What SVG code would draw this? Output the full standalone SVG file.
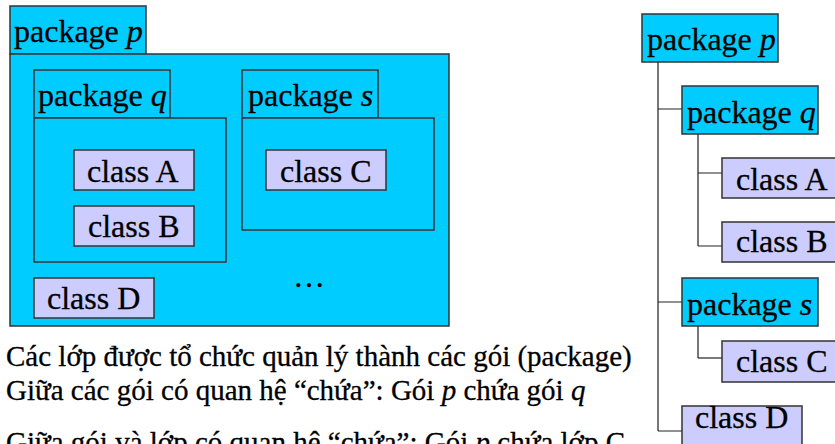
<svg xmlns="http://www.w3.org/2000/svg" width="835" height="444" viewBox="0 0 835 444">
  <style>
    .pkg { fill: #00CCFF; stroke: #333333; stroke-width: 1.5; }
    .cls { fill: #CCCCFF; stroke: #333333; stroke-width: 1.5; }
    text { font-family: 'Liberation Serif', 'Times New Roman', serif; fill: #000000; stroke: #000000; stroke-width: 0.3; }
    .lbl { font-size: 32px; }
    .note { font-size: 29px; }
    .it { font-style: italic; }
    .trunk { fill: none; stroke: #777777; stroke-width: 2; }
    .branch { fill: none; stroke: #222222; stroke-width: 1.2; }
  </style>
  <rect width="835" height="444" fill="#FFFFFF"/>

  <!-- Nested view: package p containing q, s and class D -->
  <g id="nested-package-p">
    <rect class="pkg" x="10" y="6" width="136" height="48"/>
    <rect class="pkg" x="10" y="54" width="439" height="272"/>
    <text class="lbl" x="14" y="42">package <tspan class="it">p</tspan></text>
  </g>
  <g id="nested-package-q">
    <rect class="pkg" x="34" y="70" width="136" height="48"/>
    <rect class="pkg" x="34" y="118" width="192" height="144"/>
    <text class="lbl" x="38" y="106">package <tspan class="it">q</tspan></text>
  </g>
  <g id="nested-class-a">
    <rect class="cls" x="74" y="150" width="120" height="40"/>
    <text class="lbl" x="87" y="182">class A</text>
  </g>
  <g id="nested-class-b">
    <rect class="cls" x="74" y="206" width="120" height="40"/>
    <text class="lbl" x="88" y="237">class B</text>
  </g>
  <g id="nested-package-s">
    <rect class="pkg" x="242" y="70" width="136" height="48"/>
    <rect class="pkg" x="242" y="118" width="192" height="112"/>
    <text class="lbl" x="248" y="106">package <tspan class="it">s</tspan></text>
  </g>
  <g id="nested-class-c">
    <rect class="cls" x="266" y="150" width="120" height="40"/>
    <text class="lbl" x="280" y="182">class C</text>
  </g>
  <g id="nested-class-d">
    <rect class="cls" x="34" y="278" width="120" height="40"/>
    <text class="lbl" x="47" y="309">class D</text>
  </g>
  <text class="lbl" x="293" y="287">…</text>

  <!-- Tree view connectors -->
  <g id="tree-connectors">
    <path class="trunk" d="M658 62 V431"/>
    <path class="branch" d="M658 109 H682 M658 302 H682 M658 431 H682"/>
    <path class="trunk" d="M698 134 V246"/>
    <path class="branch" d="M698 173 H722 M698 246 H722"/>
    <path class="trunk" d="M698 326 V358"/>
    <path class="branch" d="M698 358 H722"/>
  </g>

  <!-- Tree view nodes -->
  <g id="tree-package-p">
    <rect class="pkg" x="642" y="14" width="136" height="48"/>
    <text class="lbl" x="647" y="50">package <tspan class="it">p</tspan></text>
  </g>
  <g id="tree-package-q">
    <rect class="pkg" x="682" y="86" width="136" height="48"/>
    <text class="lbl" x="687" y="123">package <tspan class="it">q</tspan></text>
  </g>
  <g id="tree-class-a">
    <rect class="cls" x="722" y="158" width="120" height="40"/>
    <text class="lbl" x="736" y="190">class A</text>
  </g>
  <g id="tree-class-b">
    <rect class="cls" x="722" y="222" width="120" height="40"/>
    <text class="lbl" x="736" y="252">class B</text>
  </g>
  <g id="tree-package-s">
    <rect class="pkg" x="682" y="278" width="136" height="48"/>
    <text class="lbl" x="687" y="315">package <tspan class="it">s</tspan></text>
  </g>
  <g id="tree-class-c">
    <rect class="cls" x="722" y="341" width="120" height="41"/>
    <text class="lbl" x="736" y="372">class C</text>
  </g>
  <g id="tree-class-d">
    <rect class="cls" x="682" y="406" width="120" height="40"/>
    <text class="lbl" x="695" y="428">class D</text>
  </g>

  <!-- Notes -->
  <text class="note" x="6" y="366">Các lớp được tổ chức quản lý thành các gói (package)</text>
  <text class="note" x="6" y="400">Giữa các gói có quan hệ “chứa”: Gói <tspan class="it">p</tspan> chứa gói <tspan class="it">q</tspan></text>
  <text class="note" x="6" y="452">Giữa gói và lớp có quan hệ “chứa”: Gói <tspan class="it">p</tspan> chứa lớp C</text>
</svg>
